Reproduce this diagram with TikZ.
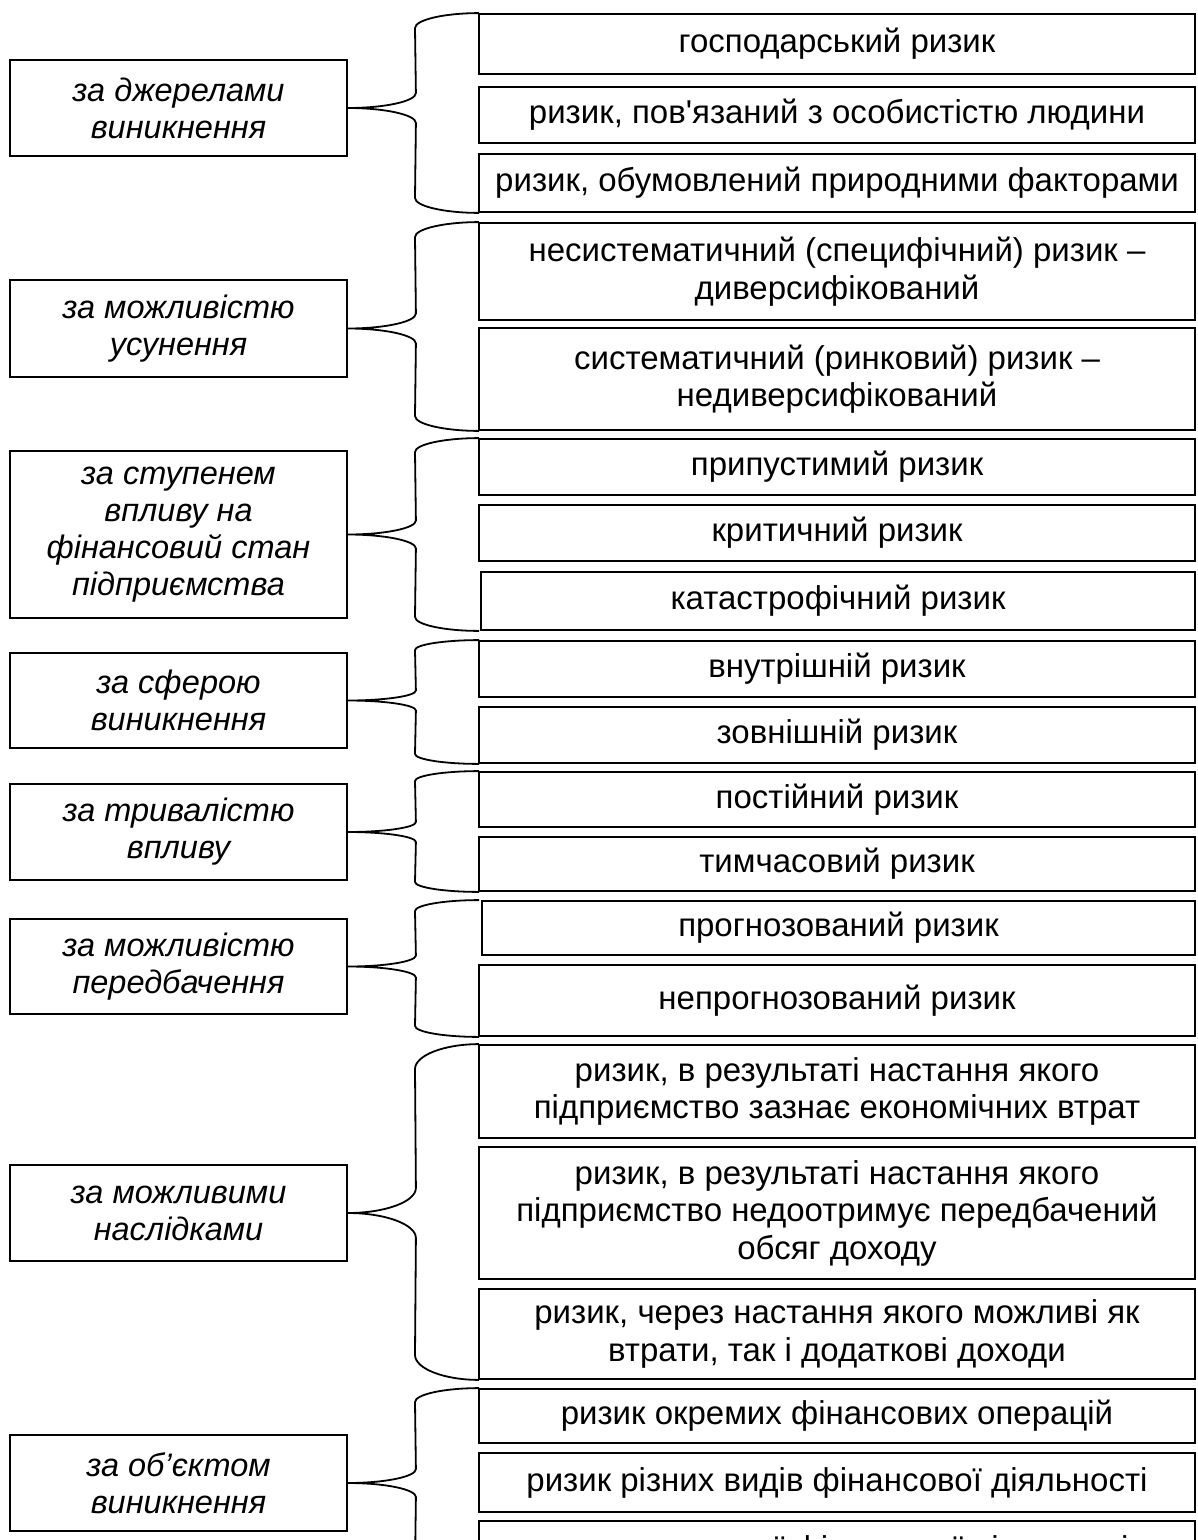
\documentclass[tikz,border=0pt]{standalone}
\usepackage{fontspec}
\setmainfont{Liberation Sans}
\usetikzlibrary{calc}
\newcommand\sq{{\XeTeXglyph\XeTeXcharglyph"27\relax}}
\tikzset{
  boxline/.style={draw=black, line width=1.8pt},
  rb/.style={boxline, rectangle, inner sep=0pt, align=center, font=\fontsize{33}{37.5}\selectfont},
  lb/.style={boxline, rectangle, inner sep=0pt, align=center, font=\fontsize{32.5}{37}\selectfont\itshape},
  brl/.style={draw=black, line width=1.8pt}
}
% right box: name, x-left, top, bottom, text
\newcommand\rbox[5]{\node[rb, minimum width={1195-#2}, minimum height={#4-#3}] (#1) at ({(#2+1195)/2},{(#3+#4)/2}) {#5};}
% left box: name, top, bottom, text
\newcommand\lbox[4]{\node[lb, minimum width=337, minimum height={#3-#2}] (#1) at (178.5,{(#2+#3)/2}) {#4};}
% brace: left node, top node, bottom node, radius
\newcommand\mybrace[4]{%
  \draw[brl] (#2.north -| bx) .. controls +(-35,0) and +(0,-0.55*#4) .. ++(-64,#4)
    -- ($(#1.east)+(68,-#4)$)
    .. controls +(0,0.55*#4) and +(37,0) .. (#1.east)
    .. controls +(37,0) and +(0,-0.55*#4) .. ($(#1.east)+(68,#4)$)
    -- ($(#3.south -| bx)+(-64,-#4)$)
    .. controls +(0,0.55*#4) and +(-35,0) .. (#3.south -| bx);}
\begin{document}
\begin{tikzpicture}[x=1pt,y=-1pt]
\useasboundingbox (0,0) rectangle (1198,1540);
\clip (0,0) rectangle (1198,1540);
\coordinate (bx) at (479,0);
% left boxes
\lbox{L1}{60}{156}{за джерелами\\виникнення}
\lbox{L2}{280}{377}{за можливістю\\усунення}
\lbox{L3}{451}{618}{за ступенем\\впливу на\\фінансовий стан\\підприємства}
\lbox{L4}{653}{748}{за сферою\\виникнення}
\lbox{L5}{784}{880}{за тривалістю\\впливу}
\lbox{L6}{919}{1014}{за можливістю\\передбачення}
\lbox{L7}{1165}{1261}{за можливими\\наслідками}
\lbox{L8}{1435}{1531}{за об’єктом\\виникнення}
% right boxes
\rbox{R1}{479}{14}{74}{господарський ризик}
\rbox{R2}{479}{87}{143}{ризик, пов\sq язаний з особистістю людини}
\rbox{R3}{479}{154}{212}{ризик, обумовлений природними факторами}
\rbox{R4}{479}{223}{320}{несистематичний (специфічний) ризик –\\диверсифікований}
\rbox{R5}{479}{328}{430}{систематичний (ринковий) ризик –\\недиверсифікований}
\rbox{R6}{479}{439}{495}{припустимий ризик}
\rbox{R7}{479}{505}{561}{критичний ризик}
\rbox{R8}{481}{572}{630}{катастрофічний ризик}
\rbox{R9}{479}{641}{697}{внутрішній ризик}
\rbox{R10}{479}{707}{763}{зовнішній ризик}
\rbox{R11}{479}{772}{827}{постійний ризик}
\rbox{R12}{479}{837}{891}{тимчасовий ризик}
\rbox{R13}{482}{901}{955}{прогнозований ризик}
\rbox{R14}{479}{965}{1036}{непрогнозований ризик}
\rbox{R15}{479}{1045}{1138}{ризик, в результаті настання якого\\підприємство зазнає економічних втрат}
\rbox{R16}{479}{1147}{1279}{ризик, в результаті настання якого\\підприємство недоотримує передбачений\\обсяг доходу}
\rbox{R17}{479}{1289}{1379}{ризик, через настання якого можливі як\\втрати, так і додаткові доходи}
\rbox{R18}{479}{1389}{1443}{ризик окремих фінансових операцій}
\rbox{R19}{479}{1453}{1512}{ризик різних видів фінансової діяльності}
\rbox{R20}{479}{1521}{1580}{ризик загальної фінансової діяльності}
% braces
\mybrace{L1}{R1}{R3}{15}
\mybrace{L2}{R4}{R5}{15}
\mybrace{L3}{R6}{R8}{14}
\mybrace{L4}{R9}{R10}{10}
\mybrace{L5}{R11}{R12}{10}
\mybrace{L6}{R13}{R14}{11}
\mybrace{L7}{R15}{R17}{25}
\mybrace{L8}{R18}{R20}{14}
\end{tikzpicture}
\end{document}
